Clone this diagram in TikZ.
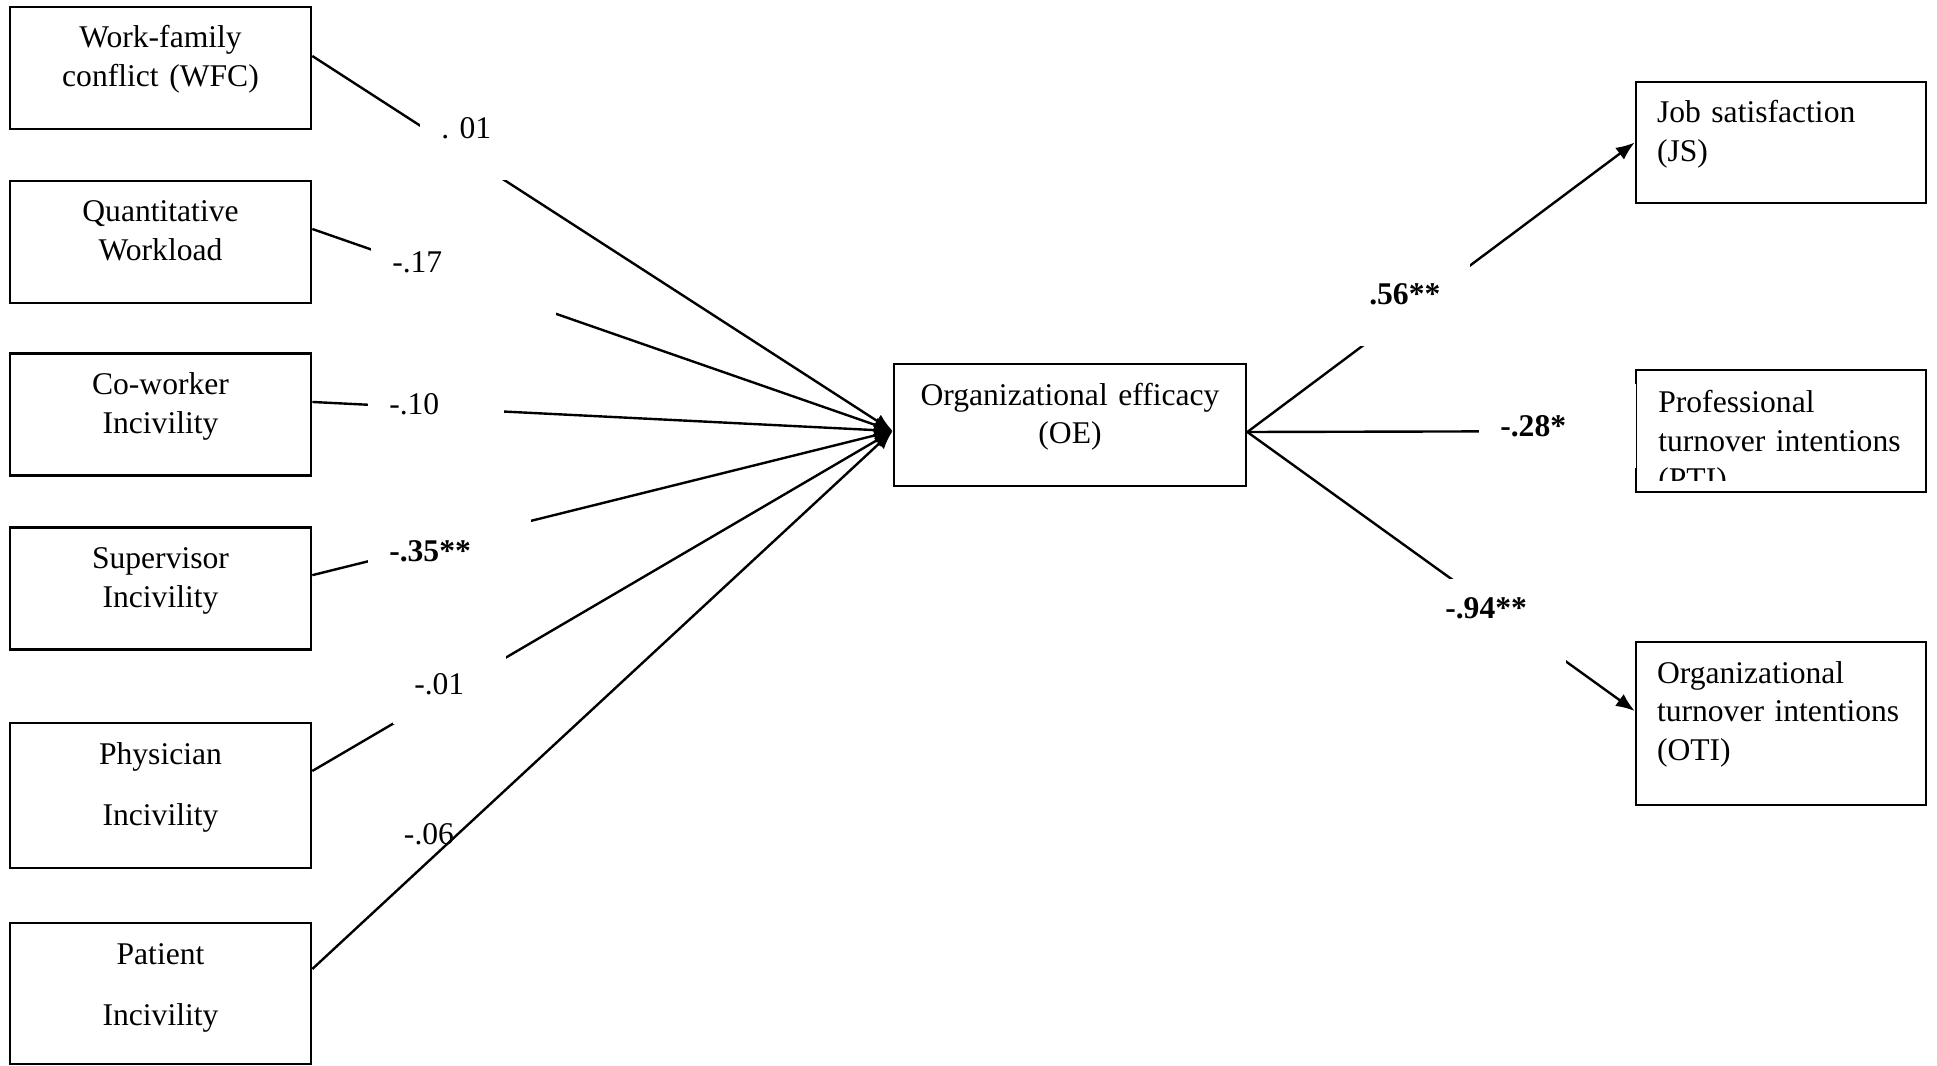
\documentclass[tikz,border=0pt]{standalone}
\usepackage{fontspec}
\setmainfont{Liberation Serif}
\usetikzlibrary{arrows.meta}

\begin{document}
\begin{tikzpicture}[x=.75pt,y=-.75pt,>={Latex[length=14pt,width=11pt]},
      font=\fontsize{23.7}{29}\selectfont,
      factor/.style={draw,line width=2pt,text width=225.75pt,align=center,
        inner sep=0pt,text height=30.75pt,text depth=60.75pt},
      outcome/.style={draw,line width=2pt,text width=186pt,align=left,
        inner xsep=15.75pt,inner ysep=0pt,text height=30.75pt},
      link/.style={line width=1.8pt},
      coef/.style={fill=white,align=left,inner xsep=15.75pt,inner ysep=0pt,anchor=west}]
  \useasboundingbox (0,0) rectangle (1937,1066);
  % predictors
  \node[factor] (wfc) at (160.5,68) {Work-family\\conflict (WFC)};
  \node[factor] (workload) at (160.5,242) {Quantitative\\Workload};
  \node[factor] (coworker) at (160.5,414.5) {Co-worker\\Incivility};
  \node[factor] (supervisor) at (160.5,588.5) {Supervisor\\Incivility};
  \node[factor,text depth=78pt] (physician) at (160.5,795.5) {Physician\\[17pt] Incivility};
  \node[factor,text depth=75pt] (patient) at (160.5,993.5) {Patient\\[17pt] Incivility};
  % mediator and outcomes
  \node[factor,text width=264pt] (oe) at (1070,425) {Organizational efficacy\\(OE)};
  \node[outcome,text depth=60pt] (js) at (1781,142.5) {Job satisfaction\\(JS)};
  \node[outcome,text depth=60.75pt,path picture={
      \clip (path picture bounding box.north west)
        rectangle ([yshift=9pt]path picture bounding box.south east);
      \node[outcome,draw=none,anchor=north west] at (path picture bounding box.north west)
        {Professional\\turnover intentions\\(PTI)};}] (pti) at (1781,431) {};
  \node[outcome,text depth=91.5pt] (oti) at (1781,723.5)
    {Organizational\\turnover intentions\\(OTI)};
  % paths into OE
  \draw[->,link] ([yshift=9pt]wfc.east) -- ([yshift=-4.5pt]oe.west);
  \draw[->,link] ([yshift=9.75pt]workload.east) -- ([yshift=-4.5pt]oe.west);
  \draw[->,link] ([yshift=9.4pt]coworker.east) -- ([yshift=-4.5pt]oe.west);
  \draw[->,link] ([yshift=10pt]supervisor.east) -- ([yshift=-4.5pt]oe.west);
  \draw[->,link] ([yshift=18.4pt]physician.east) -- ([yshift=-4.5pt]oe.west);
  \draw[->,link] ([yshift=18.4pt]patient.east) -- ([yshift=-4.5pt]oe.west);
  % paths out of OE
  \draw[->,link] ([yshift=-5.25pt]oe.east) -- (js.west);
  \draw[->,link] ([yshift=-5.25pt]oe.east) -- (pti.west);
  \draw[->,link] ([yshift=-5.25pt]oe.east) -- ([yshift=9.4pt]oti.west);
  % coefficients
  \node[coef,text width=45pt,minimum height=78pt] (c-wfc) at (420,128) {.\ 01};
  \node[coef,text width=107.25pt,text height=41.6pt,text depth=32.6pt,anchor=base west]
    (c-workload) at (371,272.5) {-.17};
  \node[coef,text width=70.5pt,minimum height=37.5pt] (c-coworker) at (368,404) {-.10};
  \node[coef,text width=90.75pt,minimum height=54pt] (c-supervisor) at (368,551) {\bfseries -.35**};
  \node[coef,text width=53.25pt,minimum height=60pt] (c-physician) at (393,684) {-.01};
  \node (c-patient) at (429,834) {-.06};
  \node[coef,text width=60pt,minimum height=78pt] (c-js) at (1348,294) {\bfseries .56**};
  \node[coef,text width=86.25pt,minimum height=63pt] (c-pti) at (1479,426) {\bfseries -.28*};
  \node[coef,text width=75pt,text height=30pt,text depth=33pt,anchor=base west]
    (c-oti) at (1424,618.5) {\bfseries -.94**};
\end{tikzpicture}
\end{document}
